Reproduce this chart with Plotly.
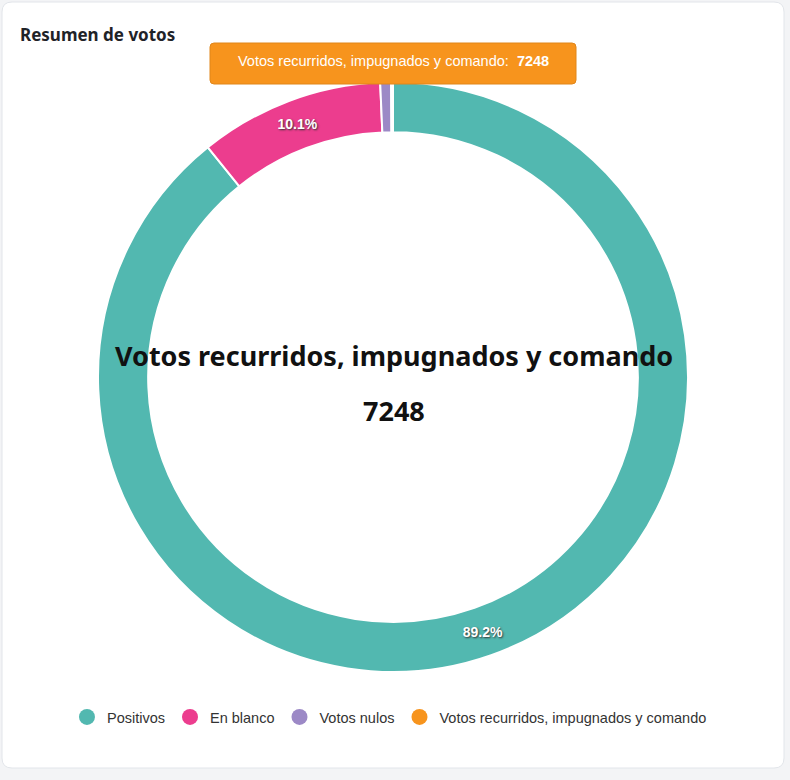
import plotly.graph_objects as go

categories = ["Positivos", "En blanco", "Votos nulos", "Votos recurridos, impugnados y comando"]
votes = [6470000, 733000, 43000, 7248]
colors = ["#52b8b0", "#ec3d8e", "#9c89c6", "#f7941d"]
highlight_index = 3

W, H = 790, 780

def px(x):
    return x / W

def py(y):
    return 1 - y / H

fig = go.Figure()

texttemplates = ["%{percent:.1%}" if v / sum(votes) > 0.05 else "" for v in votes]

fig.add_trace(go.Pie(
    labels=categories,
    values=votes,
    marker=dict(colors=colors, line=dict(color="white", width=2)),
    hole=0.83,
    sort=False,
    direction="clockwise",
    rotation=0,
    texttemplate=texttemplates,
    textposition="inside",
    insidetextorientation="horizontal",
    textfont=dict(family="Liberation Sans, Arial", size=14, color="white", weight="bold",
                  shadow="1px 1px 2px #333"),
    domain=dict(x=[px(98), px(688)], y=[py(672), py(82)]),
    showlegend=False,
    hoverinfo="skip",
))

# legend entries with circle markers
for name, c in zip(categories, colors):
    fig.add_trace(go.Scatter(x=[None], y=[None], mode="markers", name=name,
                             marker=dict(color=c, size=16, symbol="circle"),
                             showlegend=True))

# card path with rounded corners
x0, x1, y0, y1, r = 2, 784, 2, 768, 10
path = (f"M {px(x0 + r)},{py(y0)} L {px(x1 - r)},{py(y0)} Q {px(x1)},{py(y0)} {px(x1)},{py(y0 + r)} "
        f"L {px(x1)},{py(y1 - r)} Q {px(x1)},{py(y1)} {px(x1 - r)},{py(y1)} "
        f"L {px(x0 + r)},{py(y1)} Q {px(x0)},{py(y1)} {px(x0)},{py(y1 - r)} "
        f"L {px(x0)},{py(y0 + r)} Q {px(x0)},{py(y0)} {px(x0 + r)},{py(y0)} Z")

# tooltip box path
tx0, tx1, ty0, ty1, tr = 210, 576, 43, 84, 4
tpath = (f"M {px(tx0 + tr)},{py(ty0)} L {px(tx1 - tr)},{py(ty0)} Q {px(tx1)},{py(ty0)} {px(tx1)},{py(ty0 + tr)} "
         f"L {px(tx1)},{py(ty1 - tr)} Q {px(tx1)},{py(ty1)} {px(tx1 - tr)},{py(ty1)} "
         f"L {px(tx0 + tr)},{py(ty1)} Q {px(tx0)},{py(ty1)} {px(tx0)},{py(ty1 - tr)} "
         f"L {px(tx0)},{py(ty0 + tr)} Q {px(tx0)},{py(ty0)} {px(tx0 + tr)},{py(ty0)} Z")

fig.update_layout(
    width=W, height=H, autosize=False,
    margin=dict(l=0, r=0, t=0, b=0),
    paper_bgcolor="#f3f4f6",
    plot_bgcolor="rgba(0,0,0,0)",
    xaxis=dict(visible=False, domain=[0, 0.01]),
    yaxis=dict(visible=False, domain=[0, 0.01]),
    shapes=[
        dict(type="path", path=path, xref="paper", yref="paper",
             fillcolor="white", line=dict(color="#e2e5ea", width=1), layer="below"),
        dict(type="path", path=tpath, xref="paper", yref="paper",
             fillcolor=colors[highlight_index], line=dict(color="#e0861a", width=1), layer="above"),
    ],
    annotations=[
        dict(text="<b>Resumen de votos</b>", x=px(18), y=py(35), xref="paper", yref="paper",
             xanchor="left", yanchor="middle", showarrow=False,
             font=dict(family="Noto Sans, Arial", size=17, color="#1f2328")),
        dict(text=f"{categories[highlight_index]}:  <b>{votes[highlight_index]}</b>",
             x=px(393), y=py(61), xref="paper", yref="paper",
             xanchor="center", yanchor="middle", showarrow=False,
             font=dict(family="Liberation Sans, Arial", size=14.5, color="white")),
        dict(text=f"<b>{categories[highlight_index]}</b>", x=px(394), y=py(356), xref="paper", yref="paper",
             xanchor="center", yanchor="middle", showarrow=False,
             font=dict(family="Noto Sans, Arial", size=27, color="#111111")),
        dict(text=f"<b>{votes[highlight_index]}</b>", x=px(394), y=py(410), xref="paper", yref="paper",
             xanchor="center", yanchor="middle", showarrow=False,
             font=dict(family="Noto Sans, Arial", size=27, color="#111111")),
    ],
    legend=dict(orientation="h", x=0.493, xanchor="center", y=py(717), yanchor="middle",
                font=dict(family="Liberation Sans, Arial", size=14.5, color="#333333"),
                itemwidth=30, bgcolor="rgba(0,0,0,0)",
                tracegroupgap=0, traceorder="normal"),
)

fig.write_html("out.html")
